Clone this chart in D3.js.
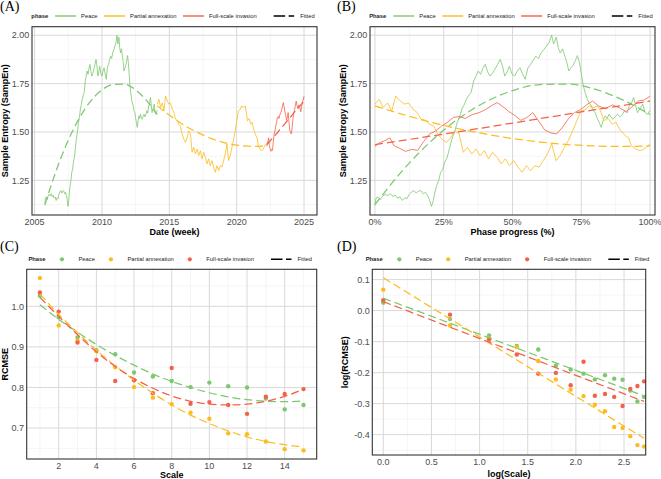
<!DOCTYPE html>
<html lang="en">
<head>
<meta charset="utf-8">
<title>SampEn and RCMSE by phase</title>
<script src="https://d3js.org/d3.v7.min.js"></script>
<style>
  body { margin: 0; background: #fff; }
  svg text { font-family: "Liberation Sans", Arial, sans-serif; }
  .tick-label { font-size: 9px; fill: #4d4d4d; }
  .axis-title { font-size: 9px; font-weight: bold; fill: #000; }
  .legend-text { font-size: 5.8px; fill: #222; }
  .panel-tag { font-family: "Liberation Serif", "Times New Roman", serif !important; font-size: 14px; fill: #000; }
</style>
</head>
<body>
<svg id="fig" width="661" height="479"></svg>
<script>
// ---- weekly sample entropy ----
var peaceYear = [2005.77,2005.80,2005.86,2005.93,2006.00,2006.08,2006.16,2006.24,2006.31,2006.38,2006.45,2006.53,2006.60,2006.67,2006.74,2006.81,2006.88,2006.95,2007.02,2007.09,2007.16,2007.23,2007.30,2007.37,2007.42,2007.48,2007.53,2007.58,2007.64,2007.70,2007.76,2007.82,2007.88,2007.95,2008.02,2008.10,2008.18,2008.26,2008.33,2008.40,2008.47,2008.54,2008.61,2008.68,2008.76,2008.83,2008.90,2008.97,2009.04,2009.11,2009.18,2009.25,2009.32,2009.40,2009.48,2009.56,2009.63,2009.70,2009.77,2009.84,2009.92,2010.00,2010.08,2010.16,2010.24,2010.32,2010.40,2010.48,2010.56,2010.64,2010.72,2010.80,2010.88,2010.96,2011.04,2011.12,2011.18,2011.26,2011.32,2011.38,2011.45,2011.52,2011.58,2011.64,2011.70,2011.77,2011.84,2011.90,2011.96,2012.02,2012.08,2012.14,2012.20,2012.26,2012.32,2012.38,2012.44,2012.50,2012.56,2012.62,2012.68,2012.74,2012.80,2012.86,2012.92,2012.98,2013.05,2013.12,2013.19,2013.26,2013.33,2013.40,2013.47,2013.54,2013.60,2013.66,2013.72,2013.80,2013.88,2013.95,2014.02,2014.10];
var peaceEn = [1.120,1.158,1.164,1.150,1.168,1.178,1.170,1.181,1.166,1.174,1.158,1.164,1.146,1.160,1.155,1.178,1.190,1.197,1.184,1.194,1.197,1.180,1.188,1.170,1.150,1.115,1.140,1.185,1.223,1.250,1.292,1.305,1.344,1.365,1.410,1.463,1.500,1.549,1.575,1.618,1.640,1.669,1.690,1.704,1.763,1.790,1.815,1.798,1.830,1.849,1.812,1.789,1.802,1.824,1.848,1.875,1.842,1.789,1.810,1.840,1.800,1.789,1.815,1.832,1.800,1.772,1.830,1.849,1.870,1.892,1.880,1.909,1.925,1.943,1.962,2.000,1.955,1.990,1.935,1.909,1.930,1.892,1.860,1.815,1.830,1.845,1.870,1.895,1.860,1.800,1.740,1.700,1.669,1.650,1.635,1.610,1.601,1.570,1.549,1.524,1.560,1.583,1.570,1.592,1.575,1.566,1.580,1.592,1.578,1.590,1.610,1.598,1.635,1.650,1.678,1.640,1.600,1.622,1.644,1.600,1.592,1.612];

var partialYear = [2014.11,2014.23,2014.35,2014.48,2014.60,2014.72,2014.85,2014.97,2015.09,2015.22,2015.34,2015.46,2015.59,2015.71,2015.83,2015.95,2016.07,2016.20,2016.32,2016.44,2016.57,2016.69,2016.81,2016.94,2017.06,2017.18,2017.31,2017.43,2017.55,2017.68,2017.80,2017.92,2018.04,2018.17,2018.29,2018.41,2018.54,2018.66,2018.78,2018.91,2019.03,2019.15,2019.28,2019.40,2019.52,2019.65,2019.76,2019.89,2020.01,2020.13,2020.25,2020.37,2020.50,2020.63,2020.72,2020.80,2020.92,2021.05,2021.15,2021.29,2021.44,2021.52,2021.61,2021.73,2021.86,2021.96,2022.06,2022.15];
var partialEn = [1.644,1.669,1.627,1.650,1.609,1.686,1.660,1.644,1.650,1.618,1.601,1.566,1.560,1.540,1.530,1.489,1.463,1.446,1.470,1.506,1.490,1.395,1.421,1.386,1.412,1.378,1.403,1.361,1.395,1.369,1.335,1.361,1.326,1.352,1.318,1.292,1.326,1.300,1.326,1.318,1.352,1.386,1.438,1.352,1.378,1.421,1.455,1.506,1.558,1.609,1.615,1.635,1.627,1.635,1.600,1.558,1.570,1.540,1.550,1.506,1.480,1.470,1.429,1.412,1.403,1.410,1.425,1.438];

var fullYear = [2022.23,2022.28,2022.33,2022.38,2022.42,2022.48,2022.54,2022.60,2022.66,2022.72,2022.78,2022.84,2022.90,2022.96,2023.02,2023.08,2023.14,2023.21,2023.28,2023.34,2023.40,2023.46,2023.52,2023.58,2023.64,2023.70,2023.76,2023.82,2023.88,2023.94,2024.00,2024.06,2024.12,2024.18,2024.24,2024.30,2024.36,2024.42,2024.48,2024.55,2024.62,2024.69,2024.76,2024.82,2024.88,2024.94,2025.00];
var fullEn = [1.425,1.445,1.455,1.470,1.430,1.415,1.400,1.410,1.405,1.450,1.490,1.505,1.530,1.550,1.575,1.580,1.570,1.590,1.600,1.615,1.635,1.652,1.630,1.605,1.585,1.560,1.575,1.600,1.555,1.510,1.495,1.490,1.525,1.570,1.600,1.615,1.640,1.660,1.635,1.620,1.640,1.625,1.605,1.630,1.660,1.665,1.685];

// ---- fitted curves, sampled over phase progress ----
var fitProgress = [0, 0.1, 0.2, 0.3, 0.4, 0.5, 0.6, 0.7, 0.8, 0.9, 1];
var peaceFit = [1.125, 1.300, 1.447, 1.565, 1.654, 1.714, 1.745, 1.748, 1.721, 1.666, 1.590];
var partialFit = [1.635, 1.591, 1.552, 1.518, 1.490, 1.466, 1.448, 1.435, 1.428, 1.425, 1.428];
var fullFit = [1.435, 1.456, 1.478, 1.500, 1.523, 1.546, 1.569, 1.592, 1.615, 1.637, 1.660];

// ---- RCMSE by scale (panel C); panel D is its log ----
var scaleSteps = [1, 2, 3, 4, 5, 6, 7, 8, 9, 10, 11, 12, 13, 14, 15];
var rcmsePeace = [1.026, 0.973, 0.923, 0.892, 0.882, 0.837, 0.827, 0.816, 0.801, 0.812, 0.803, 0.800, 0.773, 0.746, 0.757];
var rcmsePartial = [1.070, 0.953, 0.915, 0.889, 0.850, 0.801, 0.775, 0.759, 0.738, 0.723, 0.687, 0.685, 0.667, 0.648, 0.645];
var rcmseFull = [1.034, 0.987, 0.911, 0.868, 0.816, 0.818, 0.786, 0.848, 0.760, 0.764, 0.757, 0.735, 0.777, 0.784, 0.796];
var rcmseFitPeace = [1.004, 0.968, 0.936, 0.906, 0.879, 0.855, 0.833, 0.815, 0.800, 0.787, 0.777, 0.770, 0.766, 0.765, 0.767];
var rcmseFitPartial = [1.030, 0.980, 0.935, 0.892, 0.853, 0.818, 0.786, 0.757, 0.732, 0.711, 0.693, 0.678, 0.667, 0.659, 0.654];
var rcmseFitFull = [1.022, 0.975, 0.930, 0.888, 0.852, 0.822, 0.798, 0.779, 0.766, 0.759, 0.757, 0.759, 0.766, 0.778, 0.796];
var logFitX = [0, 2.708];
var logFitPeace = [0.040, -0.275];
var logFitPartial = [0.106, -0.412];
var logFitFull = [0.029, -0.293];

var phaseNames = ["Peace", "Partial annexation", "Full-scale invasion"];
var phaseColors = ["#7cc86f", "#fbbc1e", "#f46148"];

// ---- tick labels ----
var yearTicks = [2005, 2010, 2015, 2020, 2025];
var sampTicks = [1.25, 1.50, 1.75, 2.00];
var progressTicks = [0, 0.25, 0.5, 0.75, 1];
var scaleTicks = [2, 4, 6, 8, 10, 12, 14];
var rcmseTicks = [0.7, 0.8, 0.9, 1.0];
var logScaleTicks = [0, 0.5, 1, 1.5, 2, 2.5];
var logRcmseTicks = [-0.4, -0.3, -0.2, -0.1, 0, 0.1];

var svg = d3.select("#fig");

function expand(ext, m) {
  var d = (ext[1] - ext[0]) * m;
  return [ext[0] - d, ext[1] + d];
}
function minorOf(major, dom) {
  var step = major[1] - major[0], out = [];
  [major[0] - step].concat(major).forEach(function(v) {
    var m = v + step / 2;
    if (m > dom[0] && m < dom[1]) out.push(m);
  });
  return out;
}

function panel(o) {
  var g = svg.append("g");
  var x = d3.scaleLinear().domain(o.xDomain).range([o.left, o.right]);
  var y = d3.scaleLinear().domain(o.yDomain).range([o.bottom, o.top]);
  g.append("rect").attr("x", o.left).attr("y", o.top)
    .attr("width", o.right - o.left).attr("height", o.bottom - o.top).attr("fill", "#fff");

  var grid = g.append("g");
  grid.selectAll(".vmin").data(minorOf(o.xTicks, o.xDomain)).enter().append("line")
    .attr("x1", x).attr("x2", x).attr("y1", o.top).attr("y2", o.bottom)
    .attr("stroke", "#ededed").attr("stroke-width", 0.55);
  grid.selectAll(".hmin").data(minorOf(o.yTicks, o.yDomain)).enter().append("line")
    .attr("y1", y).attr("y2", y).attr("x1", o.left).attr("x2", o.right)
    .attr("stroke", "#ededed").attr("stroke-width", 0.55);
  grid.selectAll(".vmaj").data(o.xTicks).enter().append("line")
    .attr("x1", x).attr("x2", x).attr("y1", o.top).attr("y2", o.bottom)
    .attr("stroke", "#d9d9d9").attr("stroke-width", 1);
  grid.selectAll(".hmaj").data(o.yTicks).enter().append("line")
    .attr("y1", y).attr("y2", y).attr("x1", o.left).attr("x2", o.right)
    .attr("stroke", "#d9d9d9").attr("stroke-width", 1);

  g.selectAll(".xl").data(o.xTicks).enter().append("text")
    .attr("class", "tick-label").attr("x", x).attr("y", o.bottom + 10)
    .attr("text-anchor", "middle").text(o.xFormat);
  g.selectAll(".yl").data(o.yTicks).enter().append("text")
    .attr("class", "tick-label").attr("x", o.left - 2.6).attr("y", function(d) { return y(d) + 3.2; })
    .attr("text-anchor", "end").text(o.yFormat);

  g.append("text").attr("class", "axis-title").attr("x", (o.left + o.right) / 2).attr("y", o.xTitleY)
    .attr("text-anchor", "middle").text(o.xTitle);
  g.append("text").attr("class", "axis-title")
    .attr("transform", "translate(" + o.yTitleX + "," + ((o.top + o.bottom) / 2) + ") rotate(-90)")
    .attr("text-anchor", "middle").text(o.yTitle);

  svg.append("text").attr("class", "panel-tag").attr("x", o.tagX).attr("y", o.tagY).text(o.tag);

  legend(o, o.legendY);
  var marks = g.append("g");
  return { g: g, marks: marks, x: x, y: y, o: o };
}

function finish(p) {
  p.g.append("rect").attr("x", p.o.left).attr("y", p.o.top)
    .attr("width", p.o.right - p.o.left).attr("height", p.o.bottom - p.o.top)
    .attr("fill", "none").attr("stroke", "#333").attr("stroke-width", 1.1);
}

function legend(o, cy) {
  var lg = svg.append("g");
  var cx = 0;
  var t = lg.append("text").attr("class", "legend-text").attr("font-weight", "bold")
    .attr("x", cx).attr("y", cy + 2).text(o.legendTitle);
  cx += t.node().getComputedTextLength() + 7;
  phaseNames.forEach(function(name, i) {
    if (o.keyKind === "line") {
      lg.append("line").attr("x1", cx).attr("x2", cx + 21).attr("y1", cy).attr("y2", cy)
        .attr("stroke", phaseColors[i]).attr("stroke-width", 1.4);
    } else {
      lg.append("circle").attr("cx", cx + 9.5).attr("cy", cy).attr("r", 2.1).attr("fill", phaseColors[i]);
    }
    cx += 26;
    var tt = lg.append("text").attr("class", "legend-text").attr("x", cx).attr("y", cy + 2).text(name);
    cx += tt.node().getComputedTextLength() + 6.5;
  });
  cx += 10.5;
  lg.append("line").attr("x1", cx).attr("x2", cx + 20.5).attr("y1", cy).attr("y2", cy)
    .attr("stroke", "#000").attr("stroke-width", 1.4).attr("stroke-dasharray", "11.5,3.5");
  cx += 26.5;
  var ft = lg.append("text").attr("class", "legend-text").attr("x", cx).attr("y", cy + 2).text("Fitted");
  cx += ft.node().getComputedTextLength();
  var shift = (o.left + o.right) / 2 - 1.5 - cx / 2;
  lg.attr("transform", "translate(" + shift + ",0)");
}

// ---- series assembled from the arrays ----
var series = [
  { year: peaceYear, en: peaceEn, fit: peaceFit },
  { year: partialYear, en: partialEn, fit: partialFit },
  { year: fullYear, en: fullEn, fit: fullFit }
];
series.forEach(function(s) {
  var t0 = s.year[0], t1 = s.year[s.year.length - 1];
  s.pts = s.year.map(function(t, i) { return { t: t, p: (t - t0) / (t1 - t0), v: s.en[i] }; });
  s.fitPts = fitProgress.map(function(p, i) { return { t: t0 + p * (t1 - t0), p: p, v: s.fit[i] }; });
});

var allYears = d3.merge(series.map(function(s) { return s.year; }));
var allEn = d3.merge(series.map(function(s) { return s.en.concat(s.fit); }));
var enDomain = expand(d3.extent(allEn), 0.05);

function drawEntropy(p, key) {
  var line = d3.line().x(function(d) { return p.x(d[key]); }).y(function(d) { return p.y(d.v); });
  var fitLine = d3.line().curve(d3.curveMonotoneX)
    .x(function(d) { return p.x(d[key]); }).y(function(d) { return p.y(d.v); });
  series.forEach(function(s, i) {
    p.marks.append("path").attr("d", line(s.pts)).attr("fill", "none")
      .attr("stroke", phaseColors[i]).attr("stroke-width", 0.8).attr("stroke-linejoin", "round");
  });
  series.forEach(function(s, i) {
    p.marks.append("path").attr("d", fitLine(s.fitPts)).attr("fill", "none")
      .attr("stroke", phaseColors[i]).attr("stroke-width", 1.25).attr("stroke-dasharray", "8,4");
  });
}

// (A)
var pA = panel({
  left: 32, right: 317, top: 26.7, bottom: 215,
  xDomain: expand(d3.extent(allYears), 0.05), yDomain: enDomain,
  xTicks: yearTicks, yTicks: sampTicks,
  xFormat: d3.format("d"), yFormat: d3.format(".2f"),
  xTitle: "Date (week)", yTitle: "Sample Entropy (SampEn)", xTitleY: 235, yTitleX: 8.3,
  tag: "(A)", tagX: 0, tagY: 10.5, legendTitle: "phase", keyKind: "line", legendY: 16
});
drawEntropy(pA, "t");
finish(pA);

// (B)
var pB = panel({
  left: 370, right: 655, top: 26.7, bottom: 215,
  xDomain: [-0.018, 1.018], yDomain: enDomain,
  xTicks: progressTicks, yTicks: sampTicks,
  xFormat: function(d) { return Math.round(d * 100) + "%"; }, yFormat: d3.format(".2f"),
  xTitle: "Phase progress (%)", yTitle: "Sample Entropy (SampEn)", xTitleY: 235, yTitleX: 345.5,
  tag: "(B)", tagX: 337, tagY: 10.5, legendTitle: "Phase", keyKind: "line", legendY: 16
});
drawEntropy(pB, "p");
finish(pB);

// ---- RCMSE panels ----
var rcmseSets = [
  { vals: rcmsePeace, fit: rcmseFitPeace, logFit: logFitPeace },
  { vals: rcmsePartial, fit: rcmseFitPartial, logFit: logFitPartial },
  { vals: rcmseFull, fit: rcmseFitFull, logFit: logFitFull }
];
var allR = d3.merge(rcmseSets.map(function(s) { return s.vals.concat(s.fit); }));

// (C)
var pC = panel({
  left: 26.7, right: 316.7, top: 269.3, bottom: 459,
  xDomain: expand(d3.extent(scaleSteps), 0.05), yDomain: expand(d3.extent(allR), 0.05),
  xTicks: scaleTicks, yTicks: rcmseTicks,
  xFormat: d3.format("d"), yFormat: d3.format(".1f"),
  xTitle: "Scale", yTitle: "RCMSE", xTitleY: 478, yTitleX: 8.3,
  tag: "(C)", tagX: 0, tagY: 250.5, legendTitle: "Phase", keyKind: "point", legendY: 259.3
});
rcmseSets.forEach(function(s, i) {
  pC.marks.selectAll(null).data(scaleSteps).enter().append("circle")
    .attr("cx", function(d) { return pC.x(d); })
    .attr("cy", function(d, j) { return pC.y(s.vals[j]); })
    .attr("r", 2.2).attr("fill", phaseColors[i]);
});
rcmseSets.forEach(function(s, i) {
  var l = d3.line().curve(d3.curveMonotoneX)
    .x(function(d) { return pC.x(d); }).y(function(d, j) { return pC.y(s.fit[j]); });
  pC.marks.append("path").attr("d", l(scaleSteps)).attr("fill", "none")
    .attr("stroke", phaseColors[i]).attr("stroke-width", 1.25).attr("stroke-dasharray", "8,4");
});
finish(pC);

// (D)
var logScale = scaleSteps.map(Math.log);
var allLogR = d3.merge(rcmseSets.map(function(s) { return s.vals.map(Math.log).concat(s.logFit); }));
var pD = panel({
  left: 372.3, right: 645.7, top: 269.3, bottom: 455,
  xDomain: [-0.114, 2.725], yDomain: expand(d3.extent(allLogR), 0.05),
  xTicks: logScaleTicks, yTicks: logRcmseTicks,
  xFormat: function(d) { return d.toFixed(1); }, yFormat: function(d) { return d.toFixed(1); },
  xTitle: "log(Scale)", yTitle: "log(RCMSE)", xTitleY: 477, yTitleX: 347.5,
  tag: "(D)", tagX: 337, tagY: 250.5, legendTitle: "Phase", keyKind: "point", legendY: 259.3
});
rcmseSets.forEach(function(s, i) {
  pD.marks.selectAll(null).data(logScale).enter().append("circle")
    .attr("cx", function(d) { return pD.x(d); })
    .attr("cy", function(d, j) { return pD.y(Math.log(s.vals[j])); })
    .attr("r", 2.2).attr("fill", phaseColors[i]);
});
rcmseSets.forEach(function(s, i) {
  pD.marks.append("line")
    .attr("x1", pD.x(logFitX[0])).attr("x2", pD.x(logFitX[1]))
    .attr("y1", pD.y(s.logFit[0])).attr("y2", pD.y(s.logFit[1]))
    .attr("stroke", phaseColors[i]).attr("stroke-width", 1.25).attr("stroke-dasharray", "8,4");
});
finish(pD);
</script>
</body>
</html>
